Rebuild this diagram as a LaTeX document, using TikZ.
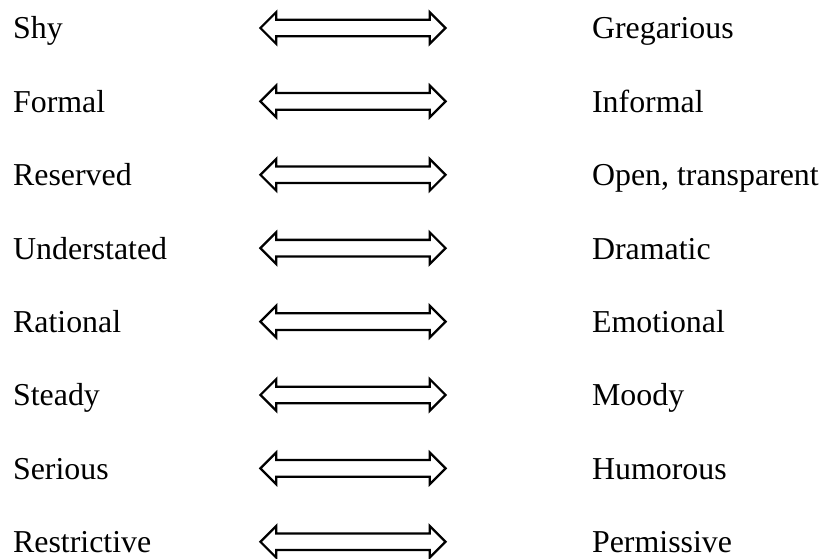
\documentclass[tikz,border=0pt]{standalone}
\usepackage{fontspec}
\setmainfont{Liberation Serif}
\usetikzlibrary{shapes.arrows}
\begin{document}
\begin{tikzpicture}[every node/.style={font=\fontsize{24}{28}\selectfont},
  pole/.style={anchor=base west,inner sep=0pt},
  twoway/.style={draw,double arrow,line width=1.7pt,line join=miter,inner sep=0pt,
    text height=0.19cm,text depth=0.19cm,minimum height=4.9cm,
    double arrow head extend=0.2cm,double arrow head indent=0pt}]
\useasboundingbox (0,0) rectangle (21.75,-14.79);
% left poles
\node[pole] (shy) at (0.34,-1.032) {Shy};
\node[pole] (formal) at (0.34,-2.974) {Formal};
\node[pole] (reserved) at (0.34,-4.916) {Reserved};
\node[pole] (understated) at (0.34,-6.858) {Understated};
\node[pole] (rational) at (0.34,-8.800) {Rational};
\node[pole] (steady) at (0.34,-10.742) {Steady};
\node[pole] (serious) at (0.34,-12.684) {Serious};
\node[pole] (restrictive) at (0.34,-14.626) {Restrictive};
% two-way arrows
\node[twoway] (a1) at (9.34,-0.741) {};
\node[twoway] (a2) at (9.34,-2.683) {};
\node[twoway] (a3) at (9.34,-4.625) {};
\node[twoway] (a4) at (9.34,-6.567) {};
\node[twoway] (a5) at (9.34,-8.509) {};
\node[twoway] (a6) at (9.34,-10.451) {};
\node[twoway] (a7) at (9.34,-12.393) {};
\node[twoway] (a8) at (9.34,-14.335) {};
% right poles
\node[pole] (gregarious) at (15.66,-1.032) {Gregarious};
\node[pole] (informal) at (15.66,-2.974) {Informal};
\node[pole] (open) at (15.66,-4.916) {Open, transparent};
\node[pole] (dramatic) at (15.66,-6.858) {Dramatic};
\node[pole] (emotional) at (15.66,-8.800) {Emotional};
\node[pole] (moody) at (15.66,-10.742) {Moody};
\node[pole] (humorous) at (15.66,-12.684) {Humorous};
\node[pole] (permissive) at (15.66,-14.626) {Permissive};
\end{tikzpicture}
\end{document}
